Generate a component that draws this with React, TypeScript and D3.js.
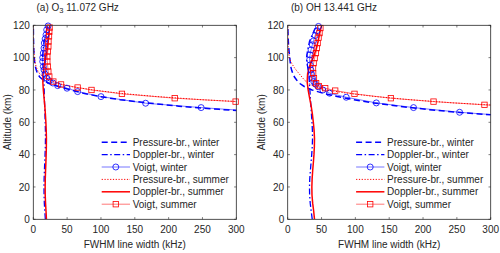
import React from 'react';
import * as d3 from 'd3';

// altitude grids (km)
const altDoppler = [0, 5, 10, 15, 20, 25, 30, 35, 40, 45, 50, 55, 60, 65, 70, 75, 80, 85, 90, 95, 100, 105, 110, 115, 120];

// (a) O3 11.072 GHz
const dopWinA = [17.8, 17.0, 16.3, 15.9, 15.8, 16.0, 16.4, 16.9, 17.4, 17.8, 18.0, 17.9, 17.6, 17.2, 16.8, 16.4, 16.1, 15.7, 15.2, 14.3, 13.6, 14.5, 15.8, 18.2, 21.2];
const dopSumA = [19.4, 18.8, 18.1, 17.6, 17.5, 17.7, 18.1, 18.6, 19.0, 19.3, 19.4, 19.1, 18.6, 17.9, 17.0, 15.9, 14.8, 14.1, 14.4, 16.0, 18.5, 20.5, 22.0, 23.2, 24.5];
const altPresWinA = [64, 66, 68, 70, 72, 74, 76, 78, 80, 82, 84, 86, 88, 90, 92, 94, 96, 98, 100, 104, 108, 112, 116, 120];
const presWinA = [430, 345, 275, 215, 168, 128, 97, 74, 56, 38, 24, 15, 9.5, 6.5, 4.6, 3.3, 2.4, 1.8, 1.4, 0.8, 0.45, 0.25, 0.14, 0.08];
const altPresSumA = [68, 70, 72, 74, 76, 78, 80, 82, 84, 86, 88, 90, 92, 94, 96, 98, 100, 104, 108, 112, 116, 120];
const presSumA = [620, 460, 340, 248, 180, 127, 88, 58, 37, 23, 14.5, 9.5, 6.5, 4.5, 3.2, 2.3, 1.7, 0.9, 0.5, 0.28, 0.16, 0.1];
const altVoigtWinA = [66.3, 69.1, 71.8, 75.9, 79.0, 81.1, 82.7, 84.3, 85.6, 87.3, 89.8, 92.4, 94.5, 97.6, 100.0, 102.8, 105.9, 109.0, 111.6, 114.1, 117.2, 119.6];
const voigtWinA = [345, 248, 166, 100, 65.5, 49.8, 36, 29, 23.5, 19.8, 17.3, 15.8, 14.8, 13.9, 13.9, 14.8, 15.8, 16.3, 17.5, 18.8, 19.8, 21.9];
const altVoigtSumA = [70.6, 72.8, 74.9, 77.6, 80.0, 81.5, 83.4, 85.2, 88.3, 91.4, 94.5, 97.6, 100.7, 103.8, 106.9, 110.0, 113.2, 116.0, 118.6];
const voigtSumA = [430, 299, 209, 131, 86, 65.5, 41, 29.6, 23.6, 22.2, 21.3, 20.7, 20.7, 21.3, 22.2, 22.4, 23.2, 23.6, 24.0];

// (b) OH 13.441 GHz
const dopWinB = [36.3, 34.7, 33.3, 32.4, 32.2, 32.6, 33.5, 34.5, 35.5, 36.3, 36.7, 36.5, 35.9, 35.1, 34.3, 33.5, 32.8, 32.0, 31.0, 29.2, 27.7, 29.6, 32.2, 37.1, 43.2];
const dopSumB = [39.6, 38.4, 36.9, 35.9, 35.7, 36.1, 36.9, 37.9, 38.8, 39.4, 39.6, 39.0, 37.9, 36.5, 34.7, 32.4, 30.2, 28.8, 29.4, 32.6, 37.7, 41.8, 44.9, 47.3, 50.0];
const altPresWinB = [62, 64, 66, 68, 70, 72, 74, 76, 78, 80, 82, 84, 86, 88, 90, 92, 94, 96, 98, 100, 104, 108, 112, 116, 120];
const presWinB = [400, 320, 255, 205, 163, 127, 97, 73, 52, 36, 25, 18, 13.5, 10, 7.7, 6, 4.8, 4, 3.5, 3.1, 2, 1.2, 0.7, 0.4, 0.22];
const altPresSumB = [66, 68, 70, 72, 74, 76, 78, 80, 82, 84, 86, 88, 90, 92, 94, 96, 98, 100, 104, 108, 112, 116, 120];
const presSumB = [560, 430, 330, 245, 180, 128, 88, 58, 40, 31, 25, 21, 17, 13, 9.5, 6.5, 4.2, 2.6, 1.0, 0.45, 0.22, 0.12, 0.07];
const altVoigtWinB = [63.4, 66.2, 69.1, 72.0, 75.5, 78.0, 80.0, 82.0, 83.6, 85.2, 87.3, 89.8, 92.4, 95.5, 98.6, 101.7, 104.8, 107.9, 110.4, 113.7, 116.6, 119.3];
const voigtWinB = [345, 254, 186, 131, 86.5, 61.8, 52, 45, 41, 38.5, 36.5, 35.2, 34.2, 33.2, 32.4, 33.0, 34.5, 36.4, 38.2, 40.6, 43.1, 45.5];
const altVoigtSumB = [68.5, 70.8, 72.8, 74.9, 77.6, 79.6, 81.1, 82.4, 84.2, 87.3, 90.4, 93.5, 96.6, 99.7, 102.8, 105.9, 109.0, 112.4, 115.2, 118.3];
const voigtSumB = [420, 290.8, 215.5, 152.5, 98.7, 70.2, 55.4, 46, 42, 38.8, 37.6, 37.4, 38.3, 39.8, 41.7, 43.1, 44.2, 45.6, 47.0, 48.3];

const xTicks = [0, 50, 100, 150, 200, 250, 300];
const yTicks = [0, 20, 40, 60, 80, 100, 120];
const legendLabels = [
  'Pressure-br., winter',
  'Doppler-br., winter',
  'Voigt, winter',
  'Pressure-br., summer',
  'Doppler-br., summer',
  'Voigt, summer',
];

const BLUE = '#0000ff';
const RED = '#ff0000';
const AXIS = '#262626';
const FONT = '"Liberation Sans", Arial, Helvetica, sans-serif';
const FS = 10;

type Pt = [number, number];
const zip = (alts: number[], vals: number[]): Pt[] => alts.map((a, i) => [vals[i], a]);

const styles = [
  { color: BLUE, width: 1.5, dash: '6,3.5', opacity: 1 },
  { color: BLUE, width: 1.3, dash: '6,2.5,1.5,2.5', opacity: 1 },
  { color: BLUE, width: 0.9, dash: null, opacity: 0.6 },
  { color: RED, width: 1, dash: '1.2,1.6', opacity: 1 },
  { color: RED, width: 1.5, dash: null, opacity: 1 },
  { color: RED, width: 0.9, dash: null, opacity: 0.6 },
];

const Panel = ({ id, left, title, series }: { id: string; left: number; title: React.ReactNode; series: Pt[][] }) => {
  const top = 25.3;
  const bottom = 219.3;
  const width = 203;
  const x = d3.scaleLinear().domain([0, 300]).range([left, left + width]);
  const y = d3.scaleLinear().domain([0, 120]).range([bottom, top]);
  const line = d3.line<Pt>().x(d => x(d[0])).y(d => y(d[1]));
  const legX = left + 68.4;
  const legY0 = 142.2;
  const legStep = 12.4;

  return (
    <g fontFamily={FONT}>
      <defs>
        <clipPath id={`clip-${id}`}>
          <rect x={left} y={top} width={width} height={bottom - top} />
        </clipPath>
      </defs>
      <text x={left + 3.2} y={10.8} fontSize={FS} fill={AXIS}>{title}</text>

      <g clipPath={`url(#clip-${id})`}>
        {series.map((s, i) => (
          <path key={i} d={line(s) || ''} fill="none" stroke={styles[i].color}
            strokeWidth={styles[i].width} strokeDasharray={styles[i].dash || undefined}
            strokeOpacity={styles[i].opacity} />
        ))}
      </g>
      {series[2].filter(d => d[0] <= 300).map((d, i) => (
        <circle key={'c' + i} cx={x(d[0])} cy={y(d[1])} r={3} fill="none" stroke={BLUE} strokeWidth={0.8} />
      ))}
      {series[5].filter(d => d[0] <= 300).map((d, i) => (
        <rect key={'s' + i} x={x(d[0]) - 2.7} y={y(d[1]) - 2.7} width={5.4} height={5.4} fill="none" stroke={RED} strokeWidth={0.8} />
      ))}

      {/* box and ticks */}
      <rect x={left} y={top} width={width} height={bottom - top} fill="none" stroke={AXIS} strokeWidth={0.8} />
      {xTicks.map(t => (
        <g key={'x' + t}>
          <line x1={x(t)} x2={x(t)} y1={bottom} y2={bottom - 2.2} stroke={AXIS} strokeWidth={0.6} />
          <line x1={x(t)} x2={x(t)} y1={top} y2={top + 2.2} stroke={AXIS} strokeWidth={0.6} />
          <text x={x(t)} y={bottom + 13.3} fontSize={FS} textAnchor="middle" fill={AXIS}>{t}</text>
        </g>
      ))}
      {yTicks.map(t => (
        <g key={'y' + t}>
          <line x1={left} x2={left + 2.2} y1={y(t)} y2={y(t)} stroke={AXIS} strokeWidth={0.6} />
          <line x1={left + width} x2={left + width - 2.2} y1={y(t)} y2={y(t)} stroke={AXIS} strokeWidth={0.6} />
          <text x={left - 3.5} y={y(t) + 3.6} fontSize={FS} textAnchor="end" fill={AXIS}>{t}</text>
        </g>
      ))}
      <text x={left + width / 2} y={247.8} fontSize={FS} textAnchor="middle" fill={AXIS}>FWHM line width (kHz)</text>
      <text transform={`translate(${left - 22.5},${(top + bottom) / 2}) rotate(-90)`} fontSize={FS}
        textAnchor="middle" fill={AXIS}>Altitude (km)</text>

      {/* legend */}
      {legendLabels.map((lab, i) => {
        const ly = legY0 + i * legStep;
        const st = styles[i];
        return (
          <g key={lab}>
            <line x1={legX} x2={legX + 28.3} y1={ly} y2={ly} stroke={st.color} strokeWidth={st.width}
              strokeDasharray={st.dash || undefined} strokeOpacity={st.opacity} />
            {i === 2 && <circle cx={legX + 14.1} cy={ly} r={3} fill="none" stroke={BLUE} strokeWidth={0.8} />}
            {i === 5 && <rect x={legX + 11.4} y={ly - 2.7} width={5.4} height={5.4} fill="none" stroke={RED} strokeWidth={0.8} />}
            <text x={legX + 31} y={ly + 3.5} fontSize={FS} fill={AXIS}>{lab}</text>
          </g>
        );
      })}
    </g>
  );
};

export default function App() {
  const seriesA = [
    zip(altPresWinA, presWinA),
    zip(altDoppler, dopWinA),
    zip(altVoigtWinA, voigtWinA),
    zip(altPresSumA, presSumA),
    zip(altDoppler, dopSumA),
    zip(altVoigtSumA, voigtSumA),
  ];
  const seriesB = [
    zip(altPresWinB, presWinB),
    zip(altDoppler, dopWinB),
    zip(altVoigtWinB, voigtWinB),
    zip(altPresSumB, presSumB),
    zip(altDoppler, dopSumB),
    zip(altVoigtSumB, voigtSumB),
  ];
  return (
    <svg width={500} height={253} style={{ position: 'absolute', left: 0, top: 0, background: '#fff' }}>
      <rect width={500} height={253} fill="#fff" />
      <Panel id="a" left={33.3} series={seriesA}
        title={<>(a) O<tspan dy={2.5} fontSize={7.5}>3</tspan><tspan dy={-2.5}> 11.072 GHz</tspan></>} />
      <Panel id="b" left={287.7} series={seriesB} title={<>(b) OH 13.441 GHz</>} />
    </svg>
  );
}
